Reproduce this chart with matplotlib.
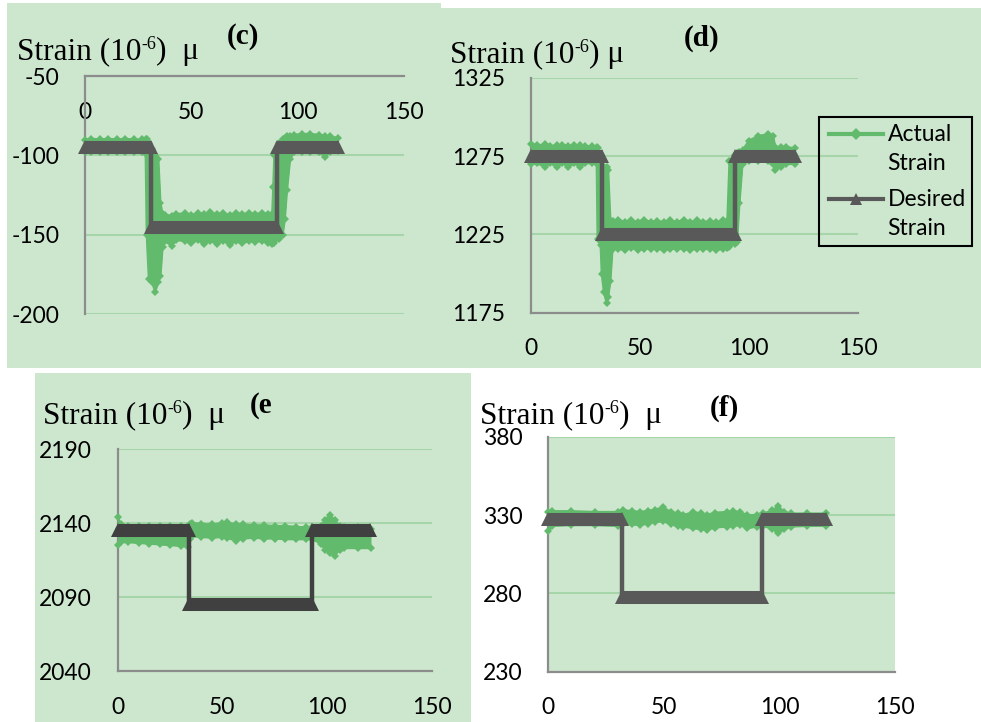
import matplotlib
matplotlib.use("Agg")
import matplotlib.pyplot as plt
from matplotlib.patches import Rectangle
from matplotlib.lines import Line2D

# ------------------------------
# data
# ------------------------------
x_ticks = [0, 50, 100, 150]

# (c)
t_c = [0, 3, 7, 11, 15, 19, 23, 27, 28.5, 29, 30, 31.5, 33, 34.5, 35.5, 36.5,
       37.5, 40.7, 43, 47, 50, 53, 56, 59, 62, 65, 68, 71, 74, 77, 80, 83, 86,
       88, 88.5, 89, 91, 93, 94, 95, 96.5, 98.5, 102, 106, 110, 113, 115, 119]
hi_c = [-90.5, -89.5, -90, -89.5, -90, -89.5, -90, -90, -90, -90, -92, -96, -100, -102, -130, -137,
        -137.5, -138, -137, -136.5, -137.5, -136.5, -137, -136, -137, -136.5, -137.5, -136.5, -137, -136.5, -137, -136.5, -137,
        -137, -120, -100, -92, -90, -89, -88, -87.5, -87, -86.5, -86.5, -87, -87.5, -88, -89]
lo_c = [-98, -98, -98, -98, -98, -98, -98, -98, -99, -150, -178, -180, -186, -180, -176, -158,
        -154, -157, -153.5, -154, -155.5, -153.5, -156, -154, -156, -154, -156.5, -154, -155.5, -154, -154.5, -154, -155,
        -156, -155, -155, -153, -150, -140, -122, -102, -98, -98, -98, -98, -101, -98, -97]
des_t_c = [0, 31, 31, 90.3, 90.3, 119]
des_v_c = [-95, -95, -145, -145, -95, -95]
y_ticks_c = [-200, -150, -100, -50]

# (d)
t_d = [0, 3, 6.5, 9, 12, 14.5, 17.3, 20, 22.6, 25, 28, 30.2, 30.6, 32, 32.5, 33.5, 34.8, 35.5,
       36.5, 37.5, 40, 43, 46, 49, 52, 55, 58, 61, 64, 67, 70, 73, 76, 79, 82, 85, 88, 90, 91,
       93.5, 94.5, 95.6, 97, 100, 104, 108.8, 111, 112, 114.5, 117, 121]
hi_d = [1283, 1282, 1282.5, 1281.5, 1282, 1282, 1281.5, 1282, 1282, 1281.5, 1281.5, 1281, 1280, 1276, 1272, 1268, 1268, 1266,
        1234, 1233.5, 1234.5, 1233, 1234, 1233, 1234.5, 1233, 1233.5, 1233, 1234, 1233, 1234.5, 1233, 1234, 1233, 1233.5, 1233, 1234, 1233.5, 1272,
        1276, 1277, 1278, 1279, 1285, 1288, 1289, 1288, 1281, 1281, 1281, 1280]
lo_d = [1270, 1270.5, 1268, 1270.5, 1268, 1270.5, 1268, 1270.5, 1268, 1270.5, 1270.5, 1270, 1222, 1218, 1200, 1188, 1181, 1185,
        1195, 1216, 1216, 1215, 1216.5, 1215, 1216, 1215.5, 1216, 1215, 1216, 1215.5, 1216, 1215, 1216, 1215.5, 1216, 1215, 1216, 1216.5, 1217,
        1219, 1220, 1245, 1270, 1272, 1272, 1272, 1270, 1266, 1268, 1270, 1270]
des_t_d = [0, 32.5, 32.5, 93.5, 93.5, 121]
des_v_d = [1275, 1275, 1225, 1225, 1275, 1275]
y_ticks_d = [1175, 1225, 1275, 1325]

# (e)
t_e = [0, 1.5, 5, 10, 15, 20, 25, 30, 33.5, 34.5, 35.5, 40, 45, 50, 52, 56.7, 60, 65, 70, 75,
       80, 85, 90, 93, 97, 99, 101.3, 103.7, 106, 108, 115, 121]
hi_e = [2144, 2139, 2138, 2138, 2138, 2138, 2138, 2138, 2138, 2139, 2140, 2139.5, 2139, 2140, 2140.5, 2139, 2139, 2138.5, 2138.5, 2138,
        2138, 2137.5, 2137, 2137, 2138, 2142, 2145.5, 2142, 2138, 2137, 2137, 2136]
lo_e = [2125, 2127, 2127, 2126.5, 2126, 2125.5, 2125, 2124.5, 2124, 2129, 2131, 2130.5, 2130, 2130.5, 2130, 2128, 2129.5, 2130, 2129.5, 2129.5,
        2129, 2129, 2129, 2129, 2126, 2122, 2120, 2118, 2122, 2123, 2123, 2123]
des_t_e = [0, 33.9, 33.9, 92.7, 92.7, 120.5]
des_v_e = [2135, 2135, 2085, 2085, 2135, 2135]
y_ticks_e = [2040, 2090, 2140, 2190]

# (f)
t_f = [0, 1.5, 10, 20, 30, 32.5, 36, 39.7, 43, 46, 49.8, 53, 56, 58.4, 62.8, 66, 68.5, 72, 77.2,
       80, 82.9, 86, 90.1, 93, 97, 99.5, 102, 105, 112, 120]
hi_f = [332, 332.5, 332.5, 332, 332, 333.2, 332.5, 332.1, 332.5, 333.5, 334.9, 332, 331, 330, 332, 331, 330, 331.5, 332,
        332.5, 332, 330, 330, 331, 333, 335.7, 332, 331, 331, 331]
lo_f = [319.5, 323, 323.5, 323.5, 323, 324.2, 324, 323.6, 324.5, 325.5, 326, 324, 323, 322.6, 321.5, 321, 320.4, 322, 322.6,
        323, 323.6, 321.5, 322.6, 323, 321, 318.3, 321, 322.6, 323, 323]
des_t_f = [0, 32.1, 32.1, 92.6, 92.6, 120]
des_v_f = [327.5, 327.5, 277.5, 277.5, 327.5, 327.5]
y_ticks_f = [230, 280, 330, 380]

# ------------------------------
# style
# ------------------------------
BG = "#CDE7CF"
GREEN = "#62BA6C"
GRAY = "#595959"
DARK = "#404040"
GRID = "#A6D5A9"
AXIS = "#8C8C8C"
SERIF = "Liberation Serif"

plt.rcParams["font.family"] = "Lato"
plt.rcParams["axes.unicode_minus"] = False

W, H = 981, 722
fig = plt.figure(figsize=(W / 100, H / 100), dpi=100)
fig.patch.set_facecolor("white")


def fx(x):
    return x / W


def fy(y):
    return 1 - y / H


def bg_rect(x0, y0, x1, y1):
    fig.add_artist(Rectangle((fx(x0), fy(y1)), (x1 - x0) / W, (y1 - y0) / H,
                             transform=fig.transFigure, color=BG, lw=0, zorder=0))


def make_axes(x0, y0, x1, y1, yticks, spine_at=None, fill=False):
    ax = fig.add_axes([fx(x0), fy(y1), (x1 - x0) / W, (y1 - y0) / H])
    ax.set_facecolor(BG if fill else "none")
    ax.set_xlim(0, 150)
    ax.set_ylim(yticks[0], yticks[-1])
    ax.set_xticks(x_ticks)
    ax.set_yticks(yticks)
    ax.set_axisbelow(True)
    ax.yaxis.grid(True, color=GRID, lw=1.5)
    for s in ["top", "right"]:
        ax.spines[s].set_visible(False)
    for s in ["left", "bottom"]:
        ax.spines[s].set_color(AXIS)
        ax.spines[s].set_linewidth(1.6)
    if spine_at is not None:
        ax.spines["bottom"].set_position(("data", spine_at))
    ax.tick_params(length=0, labelsize=16.5, pad=18.5, colors="black")
    return ax


def draw_actual(ax, t, lo, hi):
    ax.fill_between(t, lo, hi, color=GREEN, lw=0, zorder=3, clip_on=False)
    for edge in (hi, lo):
        ax.plot(t, edge, color=GREEN, lw=1.5, marker="D", ms=4, mew=0,
                zorder=3, clip_on=False)


def draw_desired(ax, t, v, color):
    ax.plot(t, v, color=color, lw=3.2, zorder=4, clip_on=False)
    for i in range(len(t) - 1):
        if v[i] == v[i + 1]:
            ax.plot(t[i:i + 2], v[i:i + 2], color=color, lw=9.4,
                    solid_capstyle="butt", zorder=4, clip_on=False)
            ax.plot(t[i:i + 2], v[i:i + 2], ls="none", marker="^", ms=9.6,
                    mew=0, color=color, zorder=4, clip_on=False)


def strain_label(x, y, gap):
    r = fig.canvas.get_renderer()
    t1 = fig.text(fx(x), fy(y), "Strain (10", fontsize=22.5, family=SERIF, va="baseline")
    b1 = t1.get_window_extent(r)
    t2 = fig.text(b1.x1 / W, (H - y + 10) / H, "-6", fontsize=13, family=SERIF, va="baseline")
    b2 = t2.get_window_extent(r)
    fig.text(b2.x1 / W, fy(y), ")" + gap + "\u03bc", fontsize=22.5, family=SERIF, va="baseline")


def panel_tag(x, y, s):
    fig.text(fx(x), fy(y), s, fontsize=21, family=SERIF, weight="bold", va="center", ha="left")


# backgrounds
bg_rect(7, 3, 441, 368)
bg_rect(441, 8, 981, 368)
bg_rect(35, 373, 471, 722)

# (c)
ax_c = make_axes(85, 76, 404, 314, y_ticks_c, spine_at=-50)
draw_actual(ax_c, t_c, lo_c, hi_c)
draw_desired(ax_c, des_t_c, des_v_c, GRAY)
strain_label(17, 59, "  ")
panel_tag(227, 36, "(c)")

# (d)
ax_d = make_axes(530.7, 78, 858.3, 312.7, y_ticks_d)
draw_actual(ax_d, t_d, lo_d, hi_d)
draw_desired(ax_d, des_t_d, des_v_d, GRAY)
strain_label(450, 62, " ")
panel_tag(684, 38, "(d)")

# (e)
ax_e = make_axes(117.7, 449, 431.7, 671, y_ticks_e)
draw_actual(ax_e, t_e, lo_e, hi_e)
draw_desired(ax_e, des_t_e, des_v_e, DARK)
strain_label(43, 423, "  ")
panel_tag(250, 406, "(e")

# (f)
ax_f = make_axes(548.3, 436.7, 895, 671.7, y_ticks_f, fill=True)
draw_actual(ax_f, t_f, lo_f, hi_f)
draw_desired(ax_f, des_t_f, des_v_f, GRAY)
strain_label(480, 423, "  ")
panel_tag(710, 408, "(f)")

# legend of panel (d)
fig.add_artist(Rectangle((fx(819), fy(245.7)), 152.7 / W, 129 / H, transform=fig.transFigure,
                         fill=False, ec="black", lw=1.5, zorder=5))
fig.add_artist(Line2D([fx(829), fx(856), fx(882.7)], [fy(134.3)] * 3, transform=fig.transFigure,
                      color=GREEN, lw=3, marker="D", ms=6, mew=0, markevery=[1], zorder=5))
fig.add_artist(Line2D([fx(829), fx(856), fx(882.7)], [fy(199)] * 3, transform=fig.transFigure,
                      color=GRAY, lw=3, marker="^", ms=9, mew=0, markevery=[1], zorder=5))
for yy, s in [(134.3, "Actual"), (163.3, "Strain"), (199, "Desired"), (228.3, "Strain")]:
    fig.text(fx(887.7), fy(yy), s, fontsize=16.5, va="center", ha="left")

fig.savefig("out.png", dpi=100)
